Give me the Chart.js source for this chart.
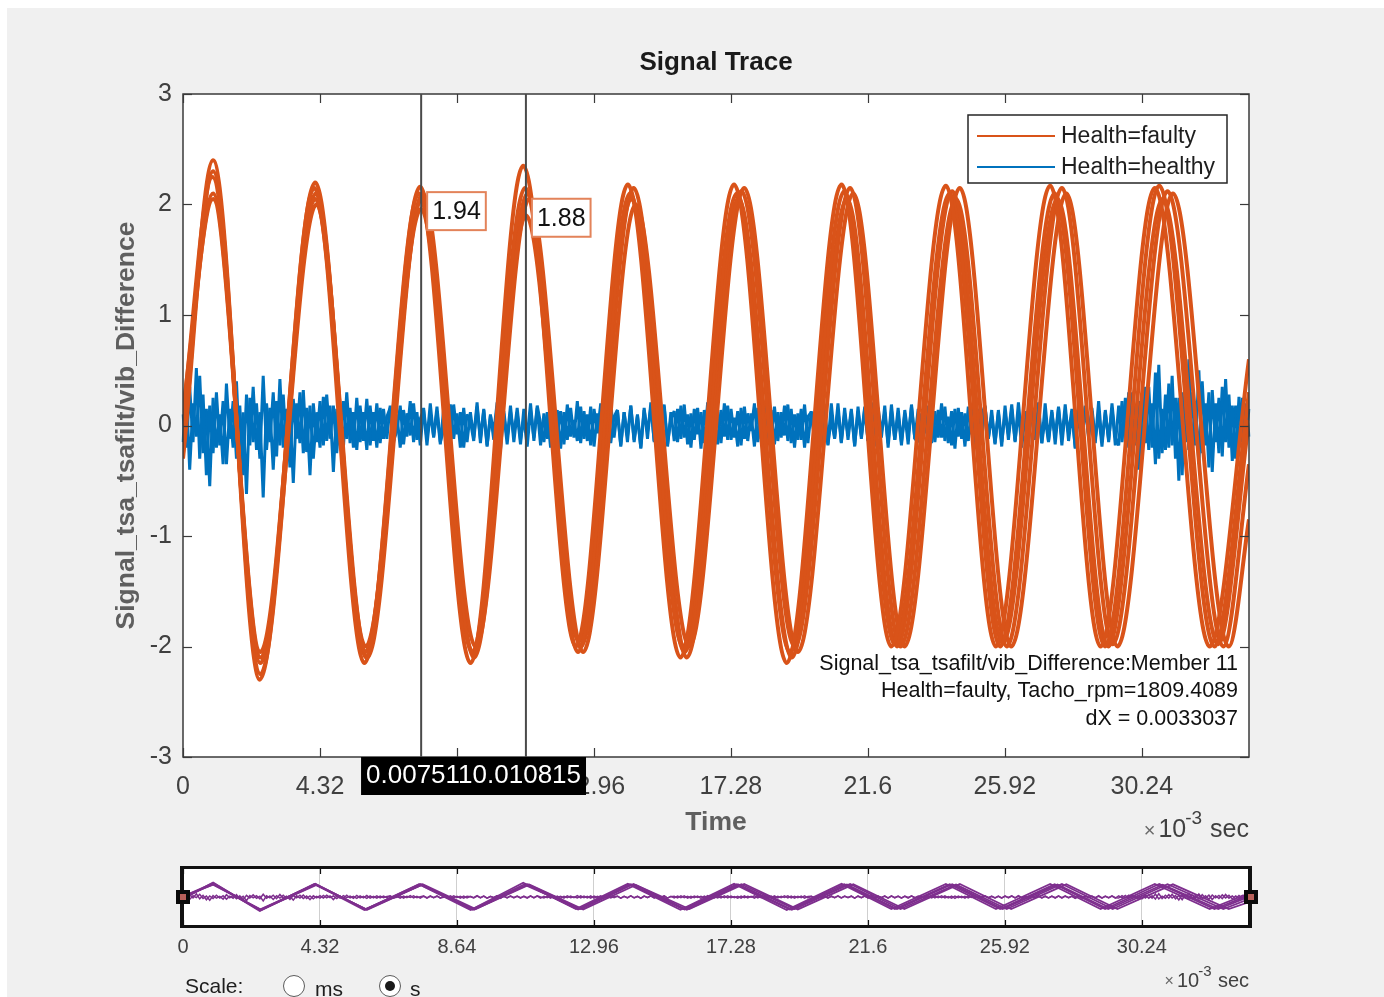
<!DOCTYPE html>
<html>
<head>
<meta charset="utf-8">
<title>Signal Trace</title>
<script src="https://cdn.jsdelivr.net/npm/chart.js"></script>
<style>
  body { margin: 0; width: 1384px; height: 997px; overflow: hidden; background: #fff;
         font-family: "Liberation Sans", Arial, sans-serif; position: relative; }
  #panel { position: absolute; left: 7px; top: 8px; right: 0; bottom: 0; background: #f0f0f0; }
  canvas { position: absolute; left: 0; }
  #main { top: 0; }
  #pan { top: 850px; }
  .txt { position: absolute; font-size: 21px; color: #1e1e1e; line-height: 24px; }
  .radio { position: absolute; width: 22px; height: 22px; border-radius: 50%; border: 1.5px solid #5a5a5a;
           background: #fff; box-sizing: border-box; }
  .radio.on::after { content: ""; position: absolute; left: 4.5px; top: 4.5px; width: 10px; height: 10px;
           border-radius: 50%; background: #1a1a1a; }
</style>
</head>
<body>
<div id="panel"></div>
<canvas id="main" width="1384" height="850"></canvas>
<canvas id="pan" width="1384" height="147"></canvas>
<div class="txt" style="left:185px; top:974px;">Scale:</div>
<div class="radio" style="left:283px; top:975px;"></div>
<div class="txt" style="left:315px; top:977px;">ms</div>
<div class="radio on" style="left:379px; top:975px;"></div>
<div class="txt" style="left:410px; top:977px;">s</div>
<script>
// axis setup (x in 10^-3 sec)
const xMax = 33.62;
const xTickVals = [0, 4.32, 8.64, 12.96, 17.28, 21.6, 25.92, 30.24];
const xTickLabels = ['0', '4.32', '8.64', '12.96', '17.28', '21.6', '25.92', '30.24'];
const yTickVals = [-3, -2, -1, 0, 1, 2, 3];

// Health=faulty members: times of start, peaks/troughs, end, with values
const faultyT1 = [0, 0.95, 2.42, 4.14, 5.72, 7.44, 9.07, 10.73, 12.39, 14.03, 15.69, 17.38, 19.04, 20.77, 22.34, 24.06, 25.64, 27.35, 28.94, 30.65, 32.38, 33.62];
const faultyY1 = [-0.25, 2.40, -2.30, 2.15, -2.15, 2.10, -2.15, 2.35, -2.00, 2.18, -2.10, 2.18, -2.15, 2.18, -2.00, 2.17, -2.00, 2.17, -2.00, 2.15, -2.00, 0.60];
const faultyT2 = [0, 0.93, 2.44, 4.17, 5.75, 7.48, 9.12, 10.79, 12.46, 14.10, 15.77, 17.47, 19.14, 20.86, 22.45, 24.18, 25.77, 27.49, 29.08, 30.79, 32.53, 33.62];
const faultyY2 = [0.10, 2.25, -2.15, 2.20, -2.05, 2.16, -2.05, 2.15, -2.05, 2.10, -2.00, 2.10, -2.05, 2.12, -1.98, 2.10, -2.00, 2.10, -2.00, 2.17, -2.00, 0.30];
const faultyT3 = [0, 0.95, 2.44, 4.17, 5.76, 7.51, 9.14, 10.82, 12.49, 14.14, 15.82, 17.52, 19.20, 20.94, 22.52, 24.26, 25.85, 27.58, 29.18, 30.90, 32.65, 33.62];
const faultyY3 = [0.00, 2.10, -2.05, 2.05, -2.00, 1.96, -2.05, 1.90, -1.95, 2.05, -2.05, 2.05, -2.10, 2.05, -2.00, 2.12, -1.97, 2.05, -2.00, 2.05, -1.98, 0.05];
const faultyT4 = [0, 0.95, 2.44, 4.19, 5.78, 7.53, 9.18, 10.87, 12.55, 14.21, 15.89, 17.61, 19.29, 21.04, 22.63, 24.38, 25.98, 27.72, 29.32, 31.05, 32.81, 33.62];
const faultyY4 = [-0.30, 2.30, -2.25, 2.10, -2.10, 2.05, -2.10, 2.10, -2.00, 2.15, -2.10, 2.12, -2.00, 2.15, -2.00, 2.05, -2.00, 2.15, -1.98, 2.12, -2.00, -0.35];
const faultyT5 = [0, 0.95, 2.45, 4.21, 5.81, 7.56, 9.23, 10.92, 12.62, 14.28, 15.97, 17.70, 19.39, 21.14, 22.75, 24.50, 26.12, 27.86, 29.47, 31.22, 32.98, 33.62];
const faultyY5 = [0.15, 2.05, -2.10, 2.00, -2.10, 2.10, -2.00, 2.05, -2.05, 2.00, -2.00, 2.15, -2.05, 2.10, -2.00, 2.15, -2.00, 2.10, -2.00, 2.10, -2.00, -0.85];

// Health=healthy members: evenly sampled across the record
const healthyY1 = [
  0.10,-0.20,0.35,-0.15,0.52,-0.30,0.28,-0.45,0.18,-0.25,0.30,-0.18,0.22,-0.35,0.15,-0.20,0.40,-0.28,0.12,-0.62,
  0.25,-0.15,0.20,-0.30,0.45,-0.22,0.16,-0.40,0.22,-0.18,0.28,-0.25,0.14,-0.52,0.20,-0.16,0.32,-0.24,0.18,-0.30,
  0.12,-0.20,0.26,-0.14,0.18,-0.42,0.15,-0.18,0.22,-0.12,0.16,-0.20,0.25,-0.15,0.12,-0.22,0.18,-0.14,0.20,-0.16,
  0.15,-0.12,0.18,-0.16,0.10,-0.20,0.14,-0.10,0.22,-0.15,0.12,-0.18,0.16,-0.13,0.20,-0.11,0.13,-0.17,0.15,-0.14,
  0.19,-0.12,0.11,-0.20,0.16,-0.15,0.12,-0.11,0.21,-0.16,0.14,-0.19,0.10,-0.13,0.17,-0.22,0.13,-0.12,0.18,-0.15,
  0.12,-0.17,0.15,-0.10,0.20,-0.14,0.16,-0.18,0.11,-0.12,0.19,-0.15,0.14,-0.21,0.12,-0.13,0.16,-0.11,0.22,-0.16,
  0.13,-0.14,0.17,-0.19,0.11,-0.12,0.15,-0.16,0.20,-0.11,0.14,-0.18,0.12,-0.15,0.18,-0.13,0.10,-0.20,0.16,-0.12,
  0.21,-0.15,0.13,-0.11,0.17,-0.19,0.12,-0.14,0.15,-0.12,0.19,-0.17,0.11,-0.13,0.16,-0.21,0.14,-0.10,0.18,-0.15,
  0.12,-0.16,0.20,-0.13,0.15,-0.11,0.13,-0.18,0.17,-0.14,0.11,-0.19,0.16,-0.12,0.22,-0.15,0.14,-0.17,0.12,-0.11,
  0.18,-0.14,0.15,-0.20,0.11,-0.13,0.19,-0.16,0.13,-0.12,0.17,-0.15,0.12,-0.18,0.20,-0.11,0.14,-0.16,0.16,-0.13,
  0.13,-0.19,0.17,-0.12,0.15,-0.14,0.21,-0.16,0.12,-0.11,0.18,-0.20,0.14,-0.13,0.16,-0.15,0.11,-0.17,0.19,-0.12,
  0.15,-0.13,0.12,-0.18,0.20,-0.15,0.14,-0.11,0.17,-0.16,0.13,-0.21,0.16,-0.12,0.11,-0.14,0.19,-0.17,0.15,-0.13,
  0.17,-0.12,0.14,-0.16,0.12,-0.19,0.18,-0.13,0.15,-0.15,0.21,-0.12,0.13,-0.18,0.16,-0.11,0.12,-0.16,0.20,-0.14,
  0.14,-0.17,0.16,-0.12,0.19,-0.14,0.11,-0.20,0.15,-0.13,0.17,-0.11,0.13,-0.16,0.22,-0.15,0.12,-0.13,0.16,-0.18,
  0.18,-0.15,0.25,-0.20,0.30,-0.18,0.22,-0.28,0.35,-0.22,0.20,-0.35,0.55,-0.25,0.28,-0.20,0.45,-0.30,0.25,-0.45,
  0.40,-0.22,0.30,-0.18,0.50,-0.25,0.20,-0.38,0.32,-0.15,0.25,-0.28,0.42,-0.20,0.18,-0.30,0.26,-0.15,0.20,-0.10
];
const healthyY2 = [
  -0.15,0.30,-0.40,0.20,-0.10,0.45,-0.25,0.15,-0.55,0.25,-0.20,0.10,-0.35,0.38,-0.12,0.22,-0.30,0.18,-0.45,0.28,
  -0.18,0.35,-0.22,0.12,-0.65,0.20,-0.15,0.30,-0.28,0.42,-0.20,0.15,-0.38,0.24,-0.12,0.30,-0.25,0.16,-0.45,0.20,
  -0.15,0.22,-0.18,0.28,-0.12,0.18,-0.25,0.14,-0.20,0.30,-0.16,0.12,-0.22,0.18,-0.14,0.24,-0.18,0.12,-0.20,0.16,
  -0.12,0.08,0.16,-0.14,-0.05,0.18,-0.17,0.11,-0.09,0.20,-0.13,0.06,0.14,-0.18,0.12,-0.10,0.17,-0.15,-0.04,0.13,
  -0.16,0.19,-0.08,0.12,-0.20,0.10,0.04,-0.14,0.17,-0.12,0.15,-0.18,0.09,-0.06,0.21,-0.14,0.11,-0.17,0.13,-0.09,
  0.16,-0.13,0.07,-0.19,0.14,-0.11,0.18,0.02,-0.15,0.12,-0.20,0.16,-0.08,0.13,-0.17,0.19,-0.10,0.05,-0.14,0.17,
  -0.12,0.10,-0.18,0.15,-0.07,0.20,-0.13,0.11,-0.16,0.08,0.14,-0.19,0.12,-0.10,0.18,-0.15,0.09,-0.21,0.14,-0.06,
  0.17,-0.14,0.12,-0.09,0.19,-0.17,0.06,0.13,-0.15,0.18,-0.11,0.10,-0.20,0.15,-0.08,0.12,-0.16,0.21,-0.12,0.08,
  -0.17,0.14,-0.10,0.18,-0.13,0.07,-0.19,0.16,-0.12,0.11,-0.05,0.20,-0.15,0.13,-0.18,0.09,-0.11,0.17,-0.14,0.12,
  -0.09,0.19,-0.16,0.10,-0.13,0.15,-0.20,0.08,0.12,-0.14,0.18,-0.11,0.16,-0.17,0.06,-0.12,0.20,-0.15,0.11,-0.08,
  0.15,-0.18,0.13,-0.10,0.17,-0.14,0.09,-0.19,0.16,-0.06,0.12,-0.16,0.19,-0.13,0.10,-0.18,0.14,-0.09,0.17,-0.12,
  -0.15,0.11,-0.07,0.18,-0.16,0.13,-0.11,0.20,-0.14,0.08,-0.18,0.15,-0.10,0.12,-0.19,0.17,-0.08,0.14,-0.13,0.10,
  0.18,-0.12,0.09,-0.17,0.14,-0.15,0.11,-0.08,0.19,-0.14,0.13,-0.20,0.10,-0.11,0.16,-0.13,0.21,-0.16,0.07,-0.15,
  0.12,-0.10,0.17,-0.18,0.13,-0.07,0.15,-0.21,0.11,-0.14,0.18,-0.09,0.16,-0.12,0.10,-0.19,0.14,-0.15,0.20,-0.11,
  -0.18,0.22,-0.14,0.30,-0.25,0.18,-0.40,0.28,-0.16,0.35,-0.20,0.48,-0.30,0.15,-0.22,0.38,-0.18,0.25,-0.50,0.30,
  -0.15,0.60,-0.28,0.22,-0.35,0.40,-0.18,0.30,-0.42,0.20,-0.25,0.35,-0.15,0.28,-0.32,0.18,-0.20,0.25,-0.12,0.15
];

const legendLabels = ['Health=faulty', 'Health=healthy'];
const cursorX = [7.511, 10.815];
const cursorY = [1.94, 1.88];
const cursorText = ['0.007511', '0.010815'];
const tipText = ['1.94', '1.88'];
const infoLines = [
  'Signal_tsa_tsafilt/vib_Difference:Member 11',
  'Health=faulty, Tacho_rpm=1809.4089',
  'dX = 0.0033037'
];

const FONT = '"Liberation Sans", Arial, sans-serif';
Chart.defaults.font.family = FONT;
const ORANGE = '#D95319';
const BLUE = '#0072BD';
const PURPLE = '#7E2F8E';

const faultyT = [faultyT1, faultyT2, faultyT3, faultyT4, faultyT5];
const faultyY = [faultyY1, faultyY2, faultyY3, faultyY4, faultyY5];
const healthyY = [healthyY1, healthyY2];
const pts = (ts, ys) => ts.map((t, i) => ({ x: t, y: ys[i] }));
const sampleLabels = healthyY1.map((v, i) => i);

function line(ctx, x1, y1, x2, y2) {
  ctx.beginPath(); ctx.moveTo(x1, y1); ctx.lineTo(x2, y2); ctx.stroke();
}

function expLabel(ctx, right, y, big, small) {
  ctx.textBaseline = 'middle';
  ctx.fillStyle = '#404040';
  ctx.font = big + 'px ' + FONT;
  ctx.textAlign = 'right';
  ctx.fillText('sec', right, y);
  const secW = ctx.measureText('sec').width;
  ctx.font = small + 'px ' + FONT;
  const supW = ctx.measureText('-3').width;
  const supRight = right - secW - big * 0.32;
  ctx.fillText('-3', supRight, y - big * 0.45);
  ctx.font = big + 'px ' + FONT;
  const tenRight = supRight - supW + 1;
  ctx.fillText('10', tenRight, y);
  const tenW = ctx.measureText('10').width;
  ctx.fillStyle = '#6a6a6a';
  ctx.font = Math.round(big * 0.8) + 'px ' + FONT;
  ctx.fillText('\u00d7', tenRight - tenW - 3, y + 1);
}

const mainDecor = {
  id: 'mainDecor',
  beforeDatasetsDraw(chart) {
    const { ctx, chartArea: ca } = chart;
    ctx.save();
    ctx.fillStyle = '#fff';
    ctx.fillRect(ca.left, ca.top, ca.right - ca.left, ca.bottom - ca.top);
    ctx.restore();
  },
  afterDraw(chart) {
    const { ctx, chartArea: ca } = chart;
    const xs = chart.scales.x, ys = chart.scales.y;
    ctx.save();

    // box + inward ticks
    ctx.strokeStyle = '#3a3a3a';
    ctx.lineWidth = 1.5;
    ctx.strokeRect(ca.left, ca.top, ca.right - ca.left, ca.bottom - ca.top);
    ctx.lineWidth = 1.2;
    xTickVals.forEach(v => {
      const px = Math.round(xs.getPixelForValue(v)) + 0.5;
      line(ctx, px, ca.bottom, px, ca.bottom - 9);
      line(ctx, px, ca.top, px, ca.top + 9);
    });
    yTickVals.forEach(v => {
      const py = Math.round(ys.getPixelForValue(v)) + 0.5;
      line(ctx, ca.left, py, ca.left + 9, py);
      line(ctx, ca.right, py, ca.right - 9, py);
    });

    // cursors
    ctx.strokeStyle = '#4a4a4a';
    ctx.lineWidth = 2;
    const cpx = cursorX.map(v => xs.getPixelForValue(v));
    cpx.forEach(px => line(ctx, px, ca.top, px, ca.bottom));

    // data tips
    ctx.font = '25px ' + FONT;
    ctx.textBaseline = 'middle';
    ctx.textAlign = 'left';
    cursorY.forEach((v, i) => {
      const px = cpx[i], py = ys.getPixelForValue(v);
      const w = ctx.measureText(tipText[i]).width + 10;
      ctx.fillStyle = '#fff';
      ctx.fillRect(px + 6, py - 19, w, 38);
      ctx.strokeStyle = '#e3835a';
      ctx.lineWidth = 2;
      ctx.strokeRect(px + 6, py - 19, w, 38);
      ctx.fillStyle = '#111';
      ctx.fillText(tipText[i], px + 11, py + 1);
    });

    // legend
    const lx = ca.right - 281, ly = ca.top + 21;
    ctx.fillStyle = '#fff';
    ctx.fillRect(lx, ly, 259, 68);
    ctx.strokeStyle = '#262626';
    ctx.lineWidth = 1.5;
    ctx.strokeRect(lx, ly, 259, 68);
    [ORANGE, BLUE].forEach((c, i) => {
      const yy = ly + 21 + i * 31;
      ctx.strokeStyle = c;
      ctx.lineWidth = 2;
      line(ctx, lx + 9, yy, lx + 87, yy);
      ctx.fillStyle = '#1e1e1e';
      ctx.font = '23px ' + FONT;
      ctx.fillText(legendLabels[i], lx + 93, yy + 1);
    });

    // info text
    ctx.font = '21.5px ' + FONT;
    ctx.textAlign = 'right';
    ctx.fillStyle = '#111';
    infoLines.forEach((t, i) => ctx.fillText(t, ca.right - 11, 664 + i * 27.5));

    // title and labels
    ctx.textAlign = 'center';
    ctx.fillStyle = '#1a1a1a';
    ctx.font = 'bold 26px ' + FONT;
    ctx.fillText('Signal Trace', (ca.left + ca.right) / 2, 63);
    ctx.fillStyle = '#5f5f5f';
    ctx.font = 'bold 26.5px ' + FONT;
    ctx.fillText('Time', (ca.left + ca.right) / 2, 823);
    ctx.save();
    ctx.translate(127, (ca.top + ca.bottom) / 2);
    ctx.rotate(-Math.PI / 2);
    ctx.fillText('Signal_tsa_tsafilt/vib_Difference', 0, 0);
    ctx.restore();
    expLabel(ctx, ca.right, 830, 25, 19);

    // cursor x readout
    ctx.font = '26px ' + FONT;
    ctx.textAlign = 'center';
    const txt = cursorText.join('');
    const tw = ctx.measureText(txt).width + 10;
    const mid = (cpx[0] + cpx[1]) / 2;
    ctx.fillStyle = '#000';
    ctx.fillRect(mid - tw / 2, ca.bottom, tw, 38);
    ctx.fillStyle = '#fff';
    ctx.fillText(txt, mid, ca.bottom + 19);
    ctx.restore();
  }
};

new Chart(document.getElementById('main'), {
  type: 'line',
  data: {
    labels: sampleLabels,
    datasets: [
      ...faultyT.map((ts, k) => ({
        label: legendLabels[0], data: pts(ts, faultyY[k]), xAxisID: 'x',
        borderColor: ORANGE, borderWidth: 4, cubicInterpolationMode: 'monotone', order: 1
      })),
      ...healthyY.map(ys => ({
        label: legendLabels[1], data: ys, xAxisID: 'xb',
        borderColor: BLUE, borderWidth: 3, order: 2
      }))
    ]
  },
  options: {
    responsive: false, animation: false, devicePixelRatio: 1,
    layout: { padding: { left: 0, right: 135, top: 94, bottom: 0 } },
    elements: { point: { radius: 0 }, line: { tension: 0, borderJoinStyle: 'bevel' } },
    plugins: { legend: { display: false }, tooltip: { enabled: false } },
    scales: {
      x: {
        type: 'linear', min: 0, max: xMax,
        afterBuildTicks: s => { s.ticks = xTickVals.map(v => ({ value: v })); },
        afterFit: s => { s.height = 93; },
        ticks: { callback: (v, i) => xTickLabels[i], color: '#404040', font: { size: 25 },
                 padding: 15, maxRotation: 0, autoSkip: false },
        grid: { display: false, drawTicks: false }, border: { display: false }
      },
      xb: { type: 'category', display: false },
      y: {
        min: -3, max: 3,
        afterBuildTicks: s => { s.ticks = yTickVals.map(v => ({ value: v })); },
        afterFit: s => { s.width = 183; },
        ticks: { color: '#404040', font: { size: 25 }, padding: 11 },
        grid: { display: false, drawTicks: false }, border: { display: false }
      }
    }
  },
  plugins: [mainDecor]
});

const panDecor = {
  id: 'panDecor',
  beforeDatasetsDraw(chart) {
    const { ctx, chartArea: ca } = chart;
    ctx.save();
    ctx.globalCompositeOperation = 'destination-over';
    ctx.fillStyle = '#fff';
    ctx.fillRect(ca.left, ca.top, ca.right - ca.left, ca.bottom - ca.top);
    ctx.restore();
  },
  afterDraw(chart) {
    const { ctx, chartArea: ca } = chart;
    const xs = chart.scales.x;
    ctx.save();
    ctx.strokeStyle = '#111';
    ctx.lineWidth = 1.2;
    xTickVals.forEach(v => {
      const px = Math.round(xs.getPixelForValue(v)) + 0.5;
      line(ctx, px, ca.bottom, px, ca.bottom - 6);
      line(ctx, px, ca.top, px, ca.top + 6);
    });
    // frame
    ctx.fillStyle = '#111';
    ctx.fillRect(ca.left - 3, ca.top - 2, ca.right - ca.left + 6, 3);
    ctx.fillRect(ca.left - 3, ca.bottom - 1, ca.right - ca.left + 6, 3);
    ctx.fillRect(ca.left - 3, ca.top - 2, 4, ca.bottom - ca.top + 4);
    ctx.fillRect(ca.right - 1, ca.top - 2, 4, ca.bottom - ca.top + 4);
    // handles
    const cy = (ca.top + ca.bottom) / 2;
    [ca.left, ca.right + 2].forEach(hx => {
      ctx.fillStyle = '#0a0a0a';
      ctx.fillRect(hx - 7, cy - 7, 14, 14);
      ctx.fillStyle = '#b8605a';
      ctx.fillRect(hx - 3, cy - 3, 6, 6);
    });
    expLabel(ctx, ca.right, 131, 20, 15);
    ctx.restore();
  }
};

new Chart(document.getElementById('pan'), {
  type: 'line',
  data: {
    labels: sampleLabels,
    datasets: [
      ...faultyT.map((ts, k) => ({
        data: pts(ts, faultyY[k]), xAxisID: 'x', borderColor: PURPLE, borderWidth: 1.8, order: 1
      })),
      ...healthyY.map(ys => ({
        data: ys, xAxisID: 'xb', borderColor: PURPLE, borderWidth: 1.5, order: 2
      }))
    ]
  },
  options: {
    responsive: false, animation: false, devicePixelRatio: 1,
    layout: { padding: { left: 183, right: 135, top: 18, bottom: 0 } },
    elements: { point: { radius: 0 }, line: { tension: 0 } },
    plugins: { legend: { display: false }, tooltip: { enabled: false } },
    scales: {
      x: {
        type: 'linear', min: 0, max: xMax,
        afterBuildTicks: s => { s.ticks = xTickVals.map(v => ({ value: v })); },
        afterFit: s => { s.height = 71; },
        ticks: { callback: (v, i) => xTickLabels[i], color: '#404040', font: { size: 20 },
                 padding: 9, maxRotation: 0, autoSkip: false },
        grid: { color: '#cfcfcf', lineWidth: 1, drawTicks: false }, border: { display: false }
      },
      xb: { type: 'category', display: false },
      y: { display: false, min: -4.8, max: 4.8 }
    }
  },
  plugins: [panDecor]
});
</script>
</body>
</html>
